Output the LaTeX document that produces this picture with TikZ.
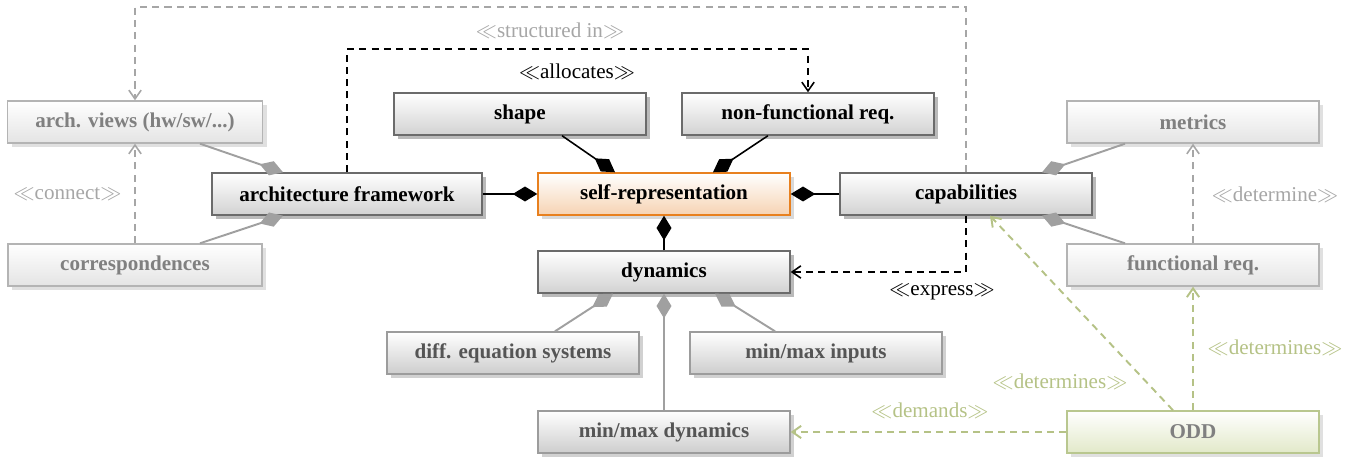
\documentclass[tikz,border=0pt]{standalone}
\usepackage{fontspec}
\setmainfont{Liberation Serif}
\usetikzlibrary{arrows.meta,shadows}

\definecolor{boxline}{HTML}{6B6B6B}
\definecolor{boxfill}{HTML}{D2D2D2}
\definecolor{fadeline}{HTML}{B4B4B4}
\definecolor{fadefill}{HTML}{E4E4E4}
\definecolor{fadetext}{HTML}{808080}
\definecolor{midline}{HTML}{9C9C9C}
\definecolor{midtext}{HTML}{555555}
\definecolor{selfline}{HTML}{E8801E}
\definecolor{selffill}{HTML}{F6D3B3}
\definecolor{oddline}{HTML}{B9C78F}
\definecolor{oddfill}{HTML}{E2E9C9}
\definecolor{dashgray}{HTML}{A6A6A6}
\definecolor{linegray}{HTML}{A0A0A0}
\definecolor{oddgreen}{HTML}{B5C286}

\tikzset{
  block/.style={draw=boxline,line width=0.8pt,top color=white,bottom color=boxfill,
    minimum width=5.04cm,minimum height=0.84cm,inner sep=0pt,
    font=\fontsize{12}{14}\selectfont\bfseries},
  main/.style={block,drop shadow={shadow xshift=2.4pt,shadow yshift=-2.4pt,fill=black!45,opacity=0.6}},
  selfbox/.style={block,draw=selfline,bottom color=selffill,
    drop shadow={shadow xshift=2.4pt,shadow yshift=-2.4pt,fill=black!25,opacity=0.6}},
  midbox/.style={block,draw=midline,bottom color=fadefill!90!black,text=midtext,
    drop shadow={shadow xshift=2.4pt,shadow yshift=-2.4pt,fill=black!30,opacity=0.6}},
  faded/.style={block,draw=fadeline,bottom color=fadefill,text=fadetext,
    drop shadow={shadow xshift=2.4pt,shadow yshift=-2.4pt,fill=black!20,opacity=0.6}},
  oddbox/.style={block,draw=oddline,bottom color=oddfill,text=fadetext,
    drop shadow={shadow xshift=2.4pt,shadow yshift=-2.4pt,fill=black!20,opacity=0.6}},
  comp/.style={-{Diamond[length=14pt,width=8.5pt]},line width=0.9pt},
  compgray/.style={comp,draw=linegray,line width=1.1pt},
  dep/.style={dash pattern=on 4pt off 3pt,-{Straight Barb[length=5pt,width=7pt]},line width=0.9pt},
  depgray/.style={dep,draw=dashgray},
  depgreen/.style={dep,draw=oddgreen,line width=1.1pt},
  lbl/.style={font=\fontsize{12}{14}\selectfont}
}

\begin{document}
\begin{tikzpicture}
  \useasboundingbox (0,0) rectangle (27.28,-9.16);

  % boxes
  \node[faded,minimum width=5.1cm] (archviews) at (2.70,-2.44) {arch. views (hw/sw/...)};
  \node[faded,minimum width=5.08cm] (corresp) at (2.70,-5.30) {correspondences};
  \node[main,minimum width=5.4cm] (archfw) at (6.94,-3.88) {architecture framework};
  \node[main] (shape) at (10.40,-2.28) {shape};
  \node[main] (nfr) at (16.16,-2.28) {non-functional req.};
  \node[selfbox] (selfrep) at (13.28,-3.88) {self-representation};
  \node[main] (capab) at (19.32,-3.88) {capabilities};
  \node[main] (dynamics) at (13.28,-5.44) {dynamics};
  \node[faded] (metrics) at (23.86,-2.44) {metrics};
  \node[faded] (funcreq) at (23.86,-5.30) {functional req.};
  \node[midbox] (diffeq) at (10.26,-7.06) {diff. equation systems};
  \node[midbox] (inputs) at (16.32,-7.06) {min/max inputs};
  \node[midbox] (mindyn) at (13.28,-8.64) {min/max dynamics};
  \node[oddbox] (odd) at (23.86,-8.64) {ODD};

  % compositions
  \draw[comp] (archfw.east) -- (selfrep.west);
  \draw[comp] (capab.west) -- (selfrep.east);
  \draw[comp] ([xshift=0.84cm]shape.south) -- ([xshift=-0.98cm]selfrep.north);
  \draw[comp] ([xshift=-0.80cm]nfr.south) -- ([xshift=0.98cm]selfrep.north);
  \draw[comp] (dynamics.north) -- (selfrep.south);
  \draw[compgray] ([xshift=1.3cm]archviews.south) -- ([xshift=-1.28cm]archfw.north);
  \draw[compgray] ([xshift=1.3cm]corresp.north) -- ([xshift=-1.28cm]archfw.south);
  \draw[compgray] ([xshift=-1.36cm]metrics.south) -- ([xshift=1.52cm]capab.north);
  \draw[compgray] ([xshift=-1.36cm]funcreq.north) -- ([xshift=1.52cm]capab.south);
  \draw[compgray] ([xshift=0.84cm]diffeq.north) -- ([xshift=-1.02cm]dynamics.south);
  \draw[compgray] ([xshift=-0.82cm]inputs.north) -- ([xshift=1.02cm]dynamics.south);
  \draw[compgray] (mindyn.north) -- (dynamics.south);

  % dependencies
  \draw[depgray] (capab.north) -- ++(0,3.30) -| (archviews.north);
  \draw[dep] (archfw.north) -- ++(0,2.46) -| (nfr.north);
  \draw[dep] (capab.south) |- (dynamics.east);
  \draw[depgray] (corresp.north) -- (archviews.south);
  \draw[depgray] (funcreq.north) -- (metrics.south);
  \draw[depgreen] (odd.north) -- (funcreq.south);
  \draw[depgreen] ([xshift=-0.40cm]odd.north) -- ([xshift=0.48cm]capab.south);
  \draw[depgreen] (odd.west) -- (mindyn.east);

  % stereotypes
  \node[lbl,text=dashgray] (lstruct) at (11.00,-0.62) {$\ll$structured in$\gg$};
  \node[lbl] (lalloc) at (11.54,-1.44) {$\ll$allocates$\gg$};
  \node[lbl] (lexpress) at (18.84,-5.84) {$\ll$express$\gg$};
  \node[lbl,text=dashgray] (lconnect) at (1.35,-3.88) {$\ll$connect$\gg$};
  \node[lbl,text=dashgray] (ldetermine) at (25.50,-3.90) {$\ll$determine$\gg$};
  \node[lbl,text=oddgreen] (ldetfr) at (25.50,-6.96) {$\ll$determines$\gg$};
  \node[lbl,text=oddgreen] (ldetcap) at (21.20,-7.64) {$\ll$determines$\gg$};
  \node[lbl,text=oddgreen] (ldemands) at (18.60,-8.22) {$\ll$demands$\gg$};
\end{tikzpicture}
\end{document}
